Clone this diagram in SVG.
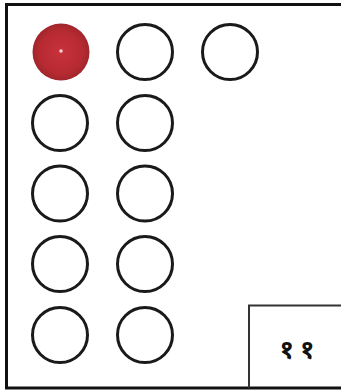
<svg xmlns="http://www.w3.org/2000/svg" width="341" height="392" viewBox="0 0 341 392">
<defs>
<radialGradient id="ball" cx="0.5" cy="0.5" r="0.5">
<stop offset="0" stop-color="#c8323a"/>
<stop offset="0.75" stop-color="#b72a32"/>
<stop offset="1" stop-color="#a0262c"/>
</radialGradient>
<style>
.c{fill:#fff;stroke:#1a1a1a;stroke-width:3}
.t{font-family:"Noto Sans","Noto Sans Devanagari","DejaVu Sans",sans-serif;font-size:26px;font-weight:bold;fill:#111;letter-spacing:6px}
</style>
</defs>
<rect width="341" height="392" fill="#fff"/>
<path d="M345 4.5H6.5V388H345" fill="none" stroke="#111" stroke-width="3"/>
<g id="frame-box"><path d="M345 305.5H249V388" fill="none" stroke="#333" stroke-width="2"/>
<text class="t" x="300" y="358" text-anchor="middle">११</text></g>
<g id="ball"><circle cx="61" cy="52" r="28.5" fill="url(#ball)"/><circle cx="61" cy="51" r="1.8" fill="#f6d0d2"/></g>
<g id="c1"><circle class="c" cx="145" cy="52" r="27.5"/></g>
<g id="c2"><circle class="c" cx="230" cy="52" r="27.5"/></g>
<g id="c3"><circle class="c" cx="60" cy="123" r="27.5"/></g>
<g id="c4"><circle class="c" cx="145" cy="123" r="27.5"/></g>
<g id="c5"><circle class="c" cx="60" cy="193.5" r="27.5"/></g>
<g id="c6"><circle class="c" cx="145" cy="193.5" r="27.5"/></g>
<g id="c7"><circle class="c" cx="60" cy="264" r="27.5"/></g>
<g id="c8"><circle class="c" cx="145" cy="264" r="27.5"/></g>
<g id="c9"><circle class="c" cx="60" cy="335" r="27.5"/></g>
<g id="c10"><circle class="c" cx="145" cy="335" r="27.5"/></g>
<g id="connectors"></g>
</svg>
